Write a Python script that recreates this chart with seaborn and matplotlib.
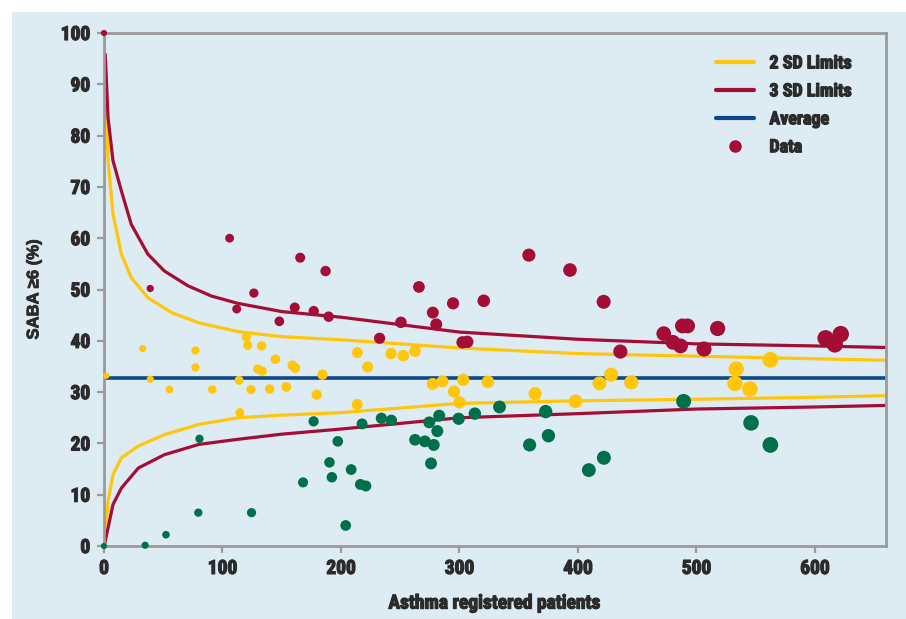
import matplotlib
matplotlib.use("Agg")
import matplotlib.pyplot as plt
from matplotlib import font_manager as fm
from matplotlib import patheffects as pe
from matplotlib.lines import Line2D
from matplotlib.patches import Rectangle
import seaborn as sns
import pandas as pd

# ---------------- data ----------------
red_x = [0, 39, 106, 112, 126.5, 148, 161, 165.6, 177, 187, 189.6, 232.6, 250.6, 265.8,
         277.5, 280.4, 294.6, 302.6, 306.6, 320.5, 358.6, 393.3, 421.7, 435.8, 472.4,
         480.2, 486.6, 488.2, 492.5, 506.4, 517.9, 609, 616.8, 621.8]
red_y = [100, 50.2, 60.0, 46.2, 49.3, 43.8, 46.5, 56.2, 45.8, 53.6, 44.7, 40.5, 43.6, 50.5,
         45.5, 43.2, 47.3, 39.7, 39.8, 47.8, 56.7, 53.8, 47.6, 37.9, 41.4,
         39.7, 39.0, 42.9, 42.9, 38.4, 42.4, 40.5, 39.3, 41.3]

yel_x = [2, 32.7, 39.1, 55.2, 77.2, 77.2, 91.4, 114, 114.6, 120.1, 121.3, 124, 129.8,
         133.5, 133, 139.8, 144.7, 153.8, 159, 161.4, 179.5, 184.4, 213.7, 213.9, 222.5,
         242.3, 252.6, 262.5, 277.4, 285.7, 295.4, 300, 303.2, 324, 363.8, 398, 418.2,
         428, 445, 532.5, 533.6, 545.2, 562.4]
yel_y = [33.2, 38.5, 32.5, 30.5, 38.1, 34.8, 30.5, 32.3, 26.0, 40.7, 39.1, 30.5, 34.5,
         34.1, 39.0, 30.6, 36.4, 31.0, 35.2, 34.7, 29.5, 33.4, 27.6, 37.7, 34.9,
         37.5, 37.1, 38.0, 31.6, 32.1, 30.1, 28.0, 32.4, 32.0, 29.7, 28.2, 31.7,
         33.4, 31.9, 31.7, 34.5, 30.6, 36.3]

grn_x = [0, 34.7, 52.3, 79.6, 80.6, 124.5, 168, 176.9, 190.3, 192.3, 197.3, 204, 208.6,
         216.4, 221, 217.8, 234.1, 242.5, 262.5, 270.8, 274.5, 276, 278.3, 281.3, 282.9,
         299.3, 313, 333.8, 359.2, 372.8, 375.1, 409.2, 421.9, 489.2, 546.1, 562.4]
grn_y = [0, 0.15, 2.2, 6.5, 20.9, 6.5, 12.4, 24.3, 16.3, 13.4, 20.4, 4.0, 14.9,
         12.0, 11.7, 23.8, 24.9, 24.5, 20.7, 20.4, 24.1, 16.1, 19.7, 22.4, 25.4,
         24.8, 25.8, 27.1, 19.7, 26.2, 21.5, 14.8, 17.2, 28.2, 24.0, 19.7]

average = 32.8

# control limits
up3_n = [1.1, 3.4, 7.6, 14.7, 23, 37, 51, 71, 91, 113, 150, 200, 300, 400, 500, 600, 660]
up3_v = [95.8, 83.5, 75.1, 69.2, 62.7, 56.9, 53.6, 50.7, 48.7, 47.3, 45.7, 44.6, 41.7, 40.3, 39.4, 39.0, 38.7]
up2_n = [1.1, 3.4, 7.6, 14.7, 23, 37, 57, 80, 113, 150, 200, 300, 400, 500, 600, 660]
up2_v = [90.7, 75.1, 64.7, 56.9, 52.3, 48.4, 45.5, 43.5, 41.8, 40.8, 40.2, 38.6, 37.5, 37.0, 36.5, 36.2]
lo2_n = [0.6, 3.4, 7.6, 14.7, 29, 51, 80, 113, 150, 200, 300, 400, 500, 600, 660]
lo2_v = [0.3, 8.7, 13.9, 17.2, 19.5, 21.7, 23.7, 25.0, 25.5, 26.0, 27.8, 28.3, 28.6, 29.0, 29.3]
lo3_n = [0.6, 3.4, 7.6, 14.7, 29, 51, 80, 113, 150, 200, 300, 400, 500, 600, 660]
lo3_v = [0.5, 3.5, 8.1, 11.3, 15.2, 17.8, 19.8, 20.8, 21.8, 22.8, 25.0, 25.8, 26.7, 27.1, 27.4]

x_ticks = [0, 100, 200, 300, 400, 500, 600]
y_ticks = [0, 10, 20, 30, 40, 50, 60, 70, 80, 90, 100]

# ---------------- style ----------------
RED = "#a30d36"
YEL = "#ffc60b"
GRN = "#00704a"
NAVY = "#0d4787"
BG = "#ddebf3"
GRID = "#9a9a9a"
TXT = "#2b2b2b"

sns.set_theme(style="white")

# pick a condensed face when one is installed
cond_family, cond_stretch = "DejaVu Sans", "normal"
names = {f.name for f in fm.fontManager.ttflist}
for cand in ["Liberation Sans Narrow", "Roboto Condensed", "Open Sans Condensed"]:
    if cand in names:
        cond_family = cand
        break
else:
    for f in fm.fontManager.ttflist:
        if f.name == "DejaVu Sans" and str(f.stretch) in ("condensed", "semi-condensed", "625", "750"):
            cond_stretch = "condensed"
            break

plt.rcParams["font.family"] = [cond_family, "DejaVu Sans"]
plt.rcParams["font.stretch"] = cond_stretch

BOLD = [pe.withStroke(linewidth=0.9, foreground=TXT)]

fig = plt.figure(figsize=(9.06, 6.19), dpi=100)
fig.patch.set_facecolor("white")
fig.patches.append(Rectangle((12 / 906, 0), 1 - 12 / 906, 1 - 12 / 619, transform=fig.transFigure,
                             facecolor=BG, edgecolor="none", zorder=-10))
ax = fig.add_axes([104 / 906, 1 - 546 / 619, (886 - 104) / 906, (546 - 33) / 619])
ax.set_facecolor(BG)

lw = 2.3
sns.lineplot(x=up2_n, y=up2_v, ax=ax, color=YEL, lw=lw, zorder=2)
sns.lineplot(x=lo2_n, y=lo2_v, ax=ax, color=YEL, lw=lw, zorder=2)
sns.lineplot(x=up3_n, y=up3_v, ax=ax, color=RED, lw=lw, zorder=2)
sns.lineplot(x=lo3_n, y=lo3_v, ax=ax, color=RED, lw=lw, zorder=2)
ax.axhline(average, xmin=0.003, color=NAVY, lw=2.6, zorder=2)

df = pd.DataFrame({
    "n": red_x + yel_x + grn_x,
    "pct": red_y + yel_y + grn_y,
    "grp": ["above"] * len(red_x) + ["within"] * len(yel_x) + ["below"] * len(grn_x),
})
sns.scatterplot(data=df, x="n", y="pct", hue="grp",
                palette={"above": RED, "within": YEL, "below": GRN},
                size="n", sizes=(20, 140), size_norm=(0, 620),
                linewidth=0, legend=False, ax=ax, zorder=3, clip_on=False)

ax.set_xlim(0, 660)
ax.set_ylim(0, 100)
ax.set_xticks(x_ticks)
ax.set_yticks(y_ticks)
ax.tick_params(axis="both", which="both", direction="out", length=5, width=1.6,
               color=GRID, labelsize=14, labelcolor=TXT, pad=5, bottom=True, left=True)
for lab in ax.get_xticklabels() + ax.get_yticklabels():
    lab.set_fontweight("bold")
    lab.set_path_effects(BOLD)
for s in ax.spines.values():
    s.set_color(GRID)
    s.set_linewidth(2)
    s.set_visible(True)

xl = ax.set_xlabel("Asthma registered patients", fontsize=14, fontweight="bold", color=TXT, labelpad=12)
xl.set_path_effects(BOLD)
yl = ax.set_ylabel("SABA ≥6 (%)", fontsize=12, fontweight="bold", color=TXT, labelpad=14,
                   family=["Liberation Sans", "DejaVu Sans"], fontstretch="normal")
yl.set_path_effects([pe.withStroke(linewidth=0.6, foreground=TXT)])

handles = [
    Line2D([], [], color=YEL, lw=3),
    Line2D([], [], color=RED, lw=3),
    Line2D([], [], color=NAVY, lw=3),
    Line2D([], [], color=RED, lw=0, marker="o", markersize=8),
]
leg = ax.legend(handles, ["2 SD Limits", "3 SD Limits", "Average", "Data"],
                loc="upper left", bbox_to_anchor=(0.762, 0.99), frameon=False,
                prop={"weight": "bold", "size": 13, "stretch": cond_stretch},
                handlelength=2.1, labelspacing=0.55, handletextpad=0.85)
for t in leg.get_texts():
    t.set_color(TXT)
    t.set_path_effects(BOLD)

fig.savefig("out.png", dpi=100, facecolor=fig.get_facecolor())
